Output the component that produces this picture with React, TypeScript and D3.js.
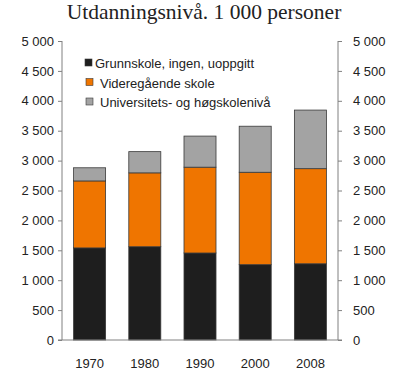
import React, { useEffect, useRef } from 'react';
import * as d3 from 'd3';

const years = ['1970', '1980', '1990', '2000', '2008'];
const grunnskole = [1540, 1560, 1455, 1260, 1275];
const videregaende = [1120, 1235, 1435, 1545, 1590];
const universitet = [220, 355, 520, 770, 980];
const seriesNames = ['Grunnskole, ingen, uoppgitt', 'Videregående skole', 'Universitets- og høgskolenivå'];
const seriesColors = ['#1e1e1e', '#ef7500', '#a3a3a3'];
const yTicks = [0, 500, 1000, 1500, 2000, 2500, 3000, 3500, 4000, 4500, 5000];

const App = () => {
  const ref = useRef<SVGSVGElement>(null);

  useEffect(() => {
    const width = 400;
    const height = 392;
    const margin = { top: 41, right: 62, bottom: 52, left: 62 };
    const svg = d3.select(ref.current);
    svg.selectAll('*').remove();

    const innerW = width - margin.left - margin.right;
    const innerH = height - margin.top - margin.bottom;

    const x = d3.scaleBand().domain(years).range([0, innerW]).paddingInner(0.42).paddingOuter(0.21);
    const y = d3.scaleLinear().domain([0, 5000]).range([innerH, 0]);

    const fmt = (d: number) => d3.format(',')(d).replace(/,/g, ' ');

    svg
      .append('text')
      .attr('x', 204)
      .attr('y', 19)
      .attr('text-anchor', 'middle')
      .style('font-family', '"Liberation Serif", "Times New Roman", serif')
      .style('font-size', '21.5px')
      .attr('fill', '#222')
      .text('Utdanningsnivå. 1 000 personer');

    const g = svg.append('g').attr('transform', `translate(${margin.left},${margin.top})`);

    const table = years.map((yr, i) => ({
      year: yr,
      s0: grunnskole[i],
      s1: videregaende[i],
      s2: universitet[i]
    }));
    const stack = d3.stack<any>().keys(['s0', 's1', 's2']);
    const layers = stack(table);

    layers.forEach((layer, li) => {
      g.append('g')
        .selectAll('rect')
        .data(layer)
        .join('rect')
        .attr('x', d => x(d.data.year) as number)
        .attr('width', x.bandwidth())
        .attr('y', d => y(d[1]))
        .attr('height', d => y(d[0]) - y(d[1]))
        .attr('fill', seriesColors[li])
        .attr('stroke', '#3a3a3a')
        .attr('stroke-width', 0.8);
    });

    const axisColor = '#808080';
    const leftAxis = g.append('g').call(d3.axisLeft(y).tickValues(yTicks).tickSize(4).tickFormat(d => fmt(d as number)));
    const rightAxis = g
      .append('g')
      .attr('transform', `translate(${innerW},0)`)
      .call(d3.axisRight(y).tickValues(yTicks).tickSize(4).tickFormat(d => fmt(d as number)));
    [leftAxis, rightAxis].forEach(ax => {
      ax.select('.domain').remove();
      ax.selectAll('.tick line').attr('stroke', axisColor);
      ax.selectAll('.tick text')
        .attr('fill', '#222')
        .style('font-family', '"Liberation Sans", Arial, sans-serif')
        .style('font-size', '13px');
    });
    leftAxis.selectAll('.tick text').attr('x', -8);
    rightAxis.selectAll('.tick text').attr('x', 15);

    g.append('line').attr('x1', 0).attr('x2', 0).attr('y1', 0).attr('y2', innerH).attr('stroke', axisColor);
    g.append('line').attr('x1', innerW).attr('x2', innerW).attr('y1', 0).attr('y2', innerH).attr('stroke', axisColor);
    g.append('line').attr('x1', -4).attr('x2', innerW + 4).attr('y1', innerH).attr('y2', innerH).attr('stroke', axisColor);

    g.append('g')
      .attr('transform', `translate(0,${innerH})`)
      .call(d3.axisBottom(x).tickSize(0).tickPadding(0))
      .call(a => a.select('.domain').remove())
      .selectAll('text')
      .attr('y', 28)
      .attr('dy', 0)
      .attr('fill', '#222')
      .style('font-family', '"Liberation Sans", Arial, sans-serif')
      .style('font-size', '13px');

    const legend = g.append('g').attr('transform', `translate(23, 22)`);
    seriesNames.forEach((name, i) => {
      const row = legend.append('g').attr('transform', `translate(0,${i * 19.5})`);
      row.append('rect')
        .attr('x', i === 0 ? 0 : 1)
        .attr('y', -4)
        .attr('width', 7)
        .attr('height', 7)
        .attr('fill', seriesColors[i])
        .attr('stroke', '#3a3a3a')
        .attr('stroke-width', 0.6);
      row.append('text')
        .attr('x', i === 0 ? 10 : 15)
        .attr('y', 5)
        .attr('fill', '#222')
        .style('font-family', '"Liberation Sans", Arial, sans-serif')
        .style('font-size', '13px')
        .text(name);
    });
  });

  return <svg ref={ref} width={400} height={392} style={{ display: 'block', position: 'absolute', left: 0, top: 0, background: '#fff' }} />;
};

export default App;
